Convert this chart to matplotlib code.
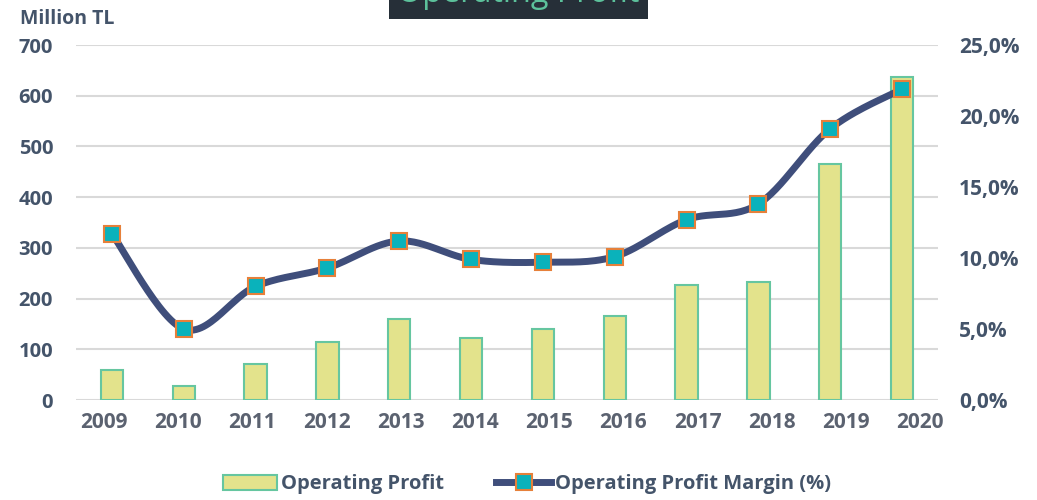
import numpy as np
import matplotlib
matplotlib.use("Agg")
import matplotlib.pyplot as plt
from matplotlib.ticker import FuncFormatter
from matplotlib.lines import Line2D
from matplotlib.patches import Patch

years = ["2009", "2010", "2011", "2012", "2013", "2014", "2015", "2016", "2017", "2018", "2019", "2020"]
operating_profit = [59, 27, 71, 114, 160, 122, 140, 166, 227, 233, 465, 637]
margin_pct = [11.7, 5.0, 8.0, 9.3, 11.2, 9.9, 9.7, 10.1, 12.7, 13.8, 19.1, 21.9]
left_ticks = [0, 100, 200, 300, 400, 500, 600, 700]
right_ticks = [0, 5, 10, 15, 20, 25]

TXT = "#44546a"
BAR_FILL = "#e3e38c"
BAR_EDGE = "#66c6a0"
LINE = "#3f4e7b"
MK_FILL = "#0ab2bb"
MK_EDGE = "#e6803a"

plt.rcParams['font.family'] = ['Open Sans', 'DejaVu Sans']

fig = plt.figure(figsize=(10.37, 5.0), dpi=100)
ax = fig.add_axes([0.0733, 0.2, 0.8312, 0.71])
x = np.arange(len(years))

ax.bar(x, operating_profit, width=0.31, color=BAR_FILL, edgecolor=BAR_EDGE, linewidth=1.5, zorder=2)
ax.set_xlim(-0.5, len(years) - 0.5)
ax.set_ylim(0, 700)
ax.set_yticks(left_ticks)
ax.yaxis.grid(True, color="#d9d9d9", linewidth=1.5, zorder=0)
ax.set_axisbelow(True)
for s in ax.spines.values():
    s.set_visible(False)
ax.tick_params(axis='y', length=0, pad=16.5, labelsize=14.5, labelcolor=TXT)
ax.tick_params(axis='x', length=0, pad=9, labelsize=15, labelcolor="#5b6270")
# category labels sit slightly spread relative to the bars in the reference
ax.set_xticks(x * 1.033 - 0.11)
ax.set_xticklabels(years, fontweight='bold')
for lab in ax.get_yticklabels():
    lab.set_fontweight('bold')

ax2 = ax.twinx()
ax2.set_ylim(0, 25)
ax2.set_yticks(right_ticks)
ax2.yaxis.set_major_formatter(FuncFormatter(lambda v, p: f"{v:.1f}%".replace('.', ',')))
for s in ax2.spines.values():
    s.set_visible(False)
ax2.tick_params(axis='y', length=0, pad=15, labelsize=15, labelcolor=TXT)
for lab in ax2.get_yticklabels():
    lab.set_fontweight('bold')

# smooth curve (Excel-like smoothed line)
xs = x.astype(float)
ys = np.array(margin_pct, dtype=float)
px, py = [], []
n = len(xs)
for i in range(n - 1):
    p0 = (xs[max(i - 1, 0)], ys[max(i - 1, 0)])
    p1 = (xs[i], ys[i])
    p2 = (xs[i + 1], ys[i + 1])
    p3 = (xs[min(i + 2, n - 1)], ys[min(i + 2, n - 1)])
    t = np.linspace(0, 1, 30)
    c1 = (p1[0] + (p2[0] - p0[0]) / 6, p1[1] + (p2[1] - p0[1]) / 6)
    c2 = (p2[0] - (p3[0] - p1[0]) / 6, p2[1] - (p3[1] - p1[1]) / 6)
    bx = (1 - t) ** 3 * p1[0] + 3 * (1 - t) ** 2 * t * c1[0] + 3 * (1 - t) * t ** 2 * c2[0] + t ** 3 * p2[0]
    by = (1 - t) ** 3 * p1[1] + 3 * (1 - t) ** 2 * t * c1[1] + 3 * (1 - t) * t ** 2 * c2[1] + t ** 3 * p2[1]
    px.extend(bx)
    py.extend(by)
ax2.plot(px, py, color=LINE, linewidth=5, solid_capstyle='round', zorder=3)
ax2.plot(xs, ys, linestyle='none', marker='s', markersize=11, markerfacecolor=MK_FILL,
         markeredgecolor=MK_EDGE, markeredgewidth=1.5, zorder=4)

fig.text(0.019, 0.962, "Million TL", fontsize=14, fontweight='bold', color=TXT, ha='left', va='center')

fig.text(0.5, 0.995, "Operating Profit", fontsize=23.3, color="#5cc19b", ha='center', va='baseline',
         bbox=dict(boxstyle='square,pad=0.25', facecolor="#262f38", edgecolor='none'))

handles = [Patch(facecolor=BAR_FILL, edgecolor=BAR_EDGE, linewidth=1.5),
           Line2D([0], [0], color=LINE, linewidth=5, marker='s', markersize=11,
                  markerfacecolor=MK_FILL, markeredgecolor=MK_EDGE, markeredgewidth=1.5)]
leg = fig.legend(handles, ["Operating Profit", "Operating Profit Margin (%)"], loc='center',
                 bbox_to_anchor=(0.508, 0.031), ncol=2, frameon=False, fontsize=14.5,
                 handlelength=2.7, handletextpad=0.2, columnspacing=2.6)
for t in leg.get_texts():
    t.set_color(TXT)
    t.set_fontweight('bold')

fig.savefig("out.png", dpi=100)
